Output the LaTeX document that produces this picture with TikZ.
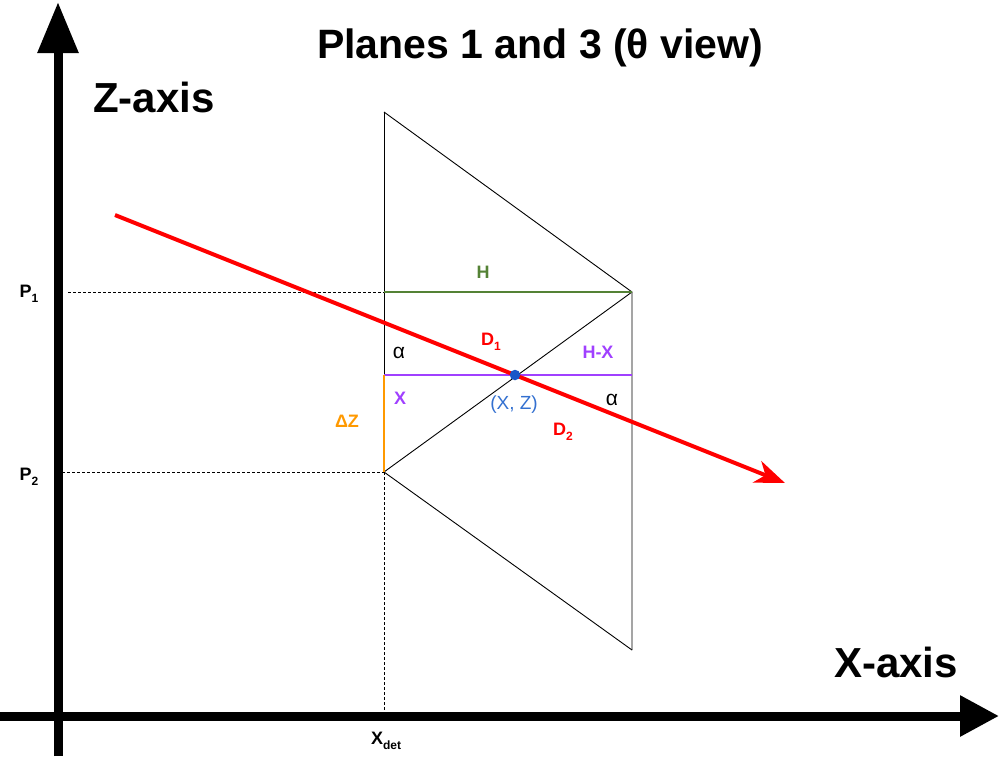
\documentclass[tikz,border=0pt]{standalone}
\usepackage{fontspec}
\setmainfont{Liberation Sans}
\usetikzlibrary{arrows.meta}
\definecolor{hgreen}{HTML}{548235}
\definecolor{hpurple}{HTML}{A040FF}
\definecolor{horange}{HTML}{FF9900}
\definecolor{hblue}{HTML}{3370D0}
\definecolor{dblue}{HTML}{1A56C8}
\newcommand{\lsub}[1]{\raisebox{-0.5ex}{\fontsize{12}{13}\selectfont #1}}
\tikzset{
  axisline/.style={line width=9pt},
  thinline/.style={line width=0.9pt, black},
  guide/.style={line width=0.7pt, dash pattern=on 3pt off 2pt},
  lbl/.style={inner sep=0pt, font=\fontsize{18}{20}\selectfont\bfseries},
  big/.style={inner sep=0pt, font=\fontsize{42}{48}\selectfont\bfseries},
}
\begin{document}
\begin{tikzpicture}[x=1pt,y=-1pt]
\useasboundingbox (0,0) rectangle (999,756);
% axis coordinates
\coordinate (zbot) at (58,756);
\coordinate (ztop) at (58,2);
\coordinate (xl) at (0,716);
\coordinate (xr) at (999,716);
% construction points
\coordinate (A) at (384,112);
\coordinate (B) at (632,292);
\coordinate (C) at (384,472);
\coordinate (D) at (632,650);
\coordinate (E) at (384,292);
\coordinate (F) at (384,375);
\coordinate (G) at (632,375);
\coordinate (Xd) at (384,716);
\coordinate (p1s) at (68,292);
\coordinate (p2s) at (62,472);
\coordinate (rs) at (115,215);
\coordinate (re) at (785,483);
\coordinate (pt) at (515,375);

% axes
\draw[axisline, -{Triangle[length=51pt,width=39pt]}] (zbot) -- (ztop);
\draw[axisline, -{Triangle[length=39pt,width=39pt]}] (xl) -- (xr);

% guides
\draw[guide] (p1s) -- (E);
\draw[guide] (p2s) -- (C);
\draw[guide] (C) -- (Xd);

% construction
\draw[thinline] (A) -- (C);
\draw[thinline] (A) -- (B) -- (D);
\draw[thinline] (C) -- (B);
\draw[thinline] (C) -- (D);
\draw[hgreen, line width=2pt] (E) -- (B);
\draw[hpurple, line width=2.5pt] (F) -- (G);
\draw[horange, line width=2pt] (F) -- (C);

% red ray
\draw[red, line width=4pt, -{Stealth[length=30pt,width=23pt,inset=9pt]}] (rs) -- (re);
\node[circle, fill=dblue, inner sep=0pt, minimum size=10.5pt] (dot) at (pt) {};

% labels
\node[big, font=\fontsize{41}{47}\selectfont\bfseries] (title) at (540,48) {Planes 1 and 3 (θ view)};
\node[big] (zlab) at (154,97) {Z-axis};
\node[big] (xlab) at (896,662) {X-axis};
\node[lbl] (p1) at (29,294) {P\lsub{1}};
\node[lbl] (p2) at (29,477) {P\lsub{2}};
\node[lbl] (xdet) at (386,741) {X\lsub{det}};
\node[lbl, hgreen] (hl) at (483,272) {H};
\node[lbl, red] (d1) at (491,342) {D\lsub{1}};
\node[lbl, red] (d2) at (563,432) {D\lsub{2}};
\node[lbl, hpurple] (hx) at (598,352) {H-X};
\node[lbl, hpurple] (xl2) at (400,398) {X};
\node[lbl, horange] (dz) at (347,421) {ΔZ};
\node[inner sep=0pt, font=\fontsize{21}{23}\selectfont] (a1) at (399,353) {α};
\node[inner sep=0pt, font=\fontsize{21}{23}\selectfont] (a2) at (612,400) {α};
\node[inner sep=0pt, hblue, font=\fontsize{19}{21}\selectfont] (xz) at (514,405) {(X, Z)};
\end{tikzpicture}
\end{document}
